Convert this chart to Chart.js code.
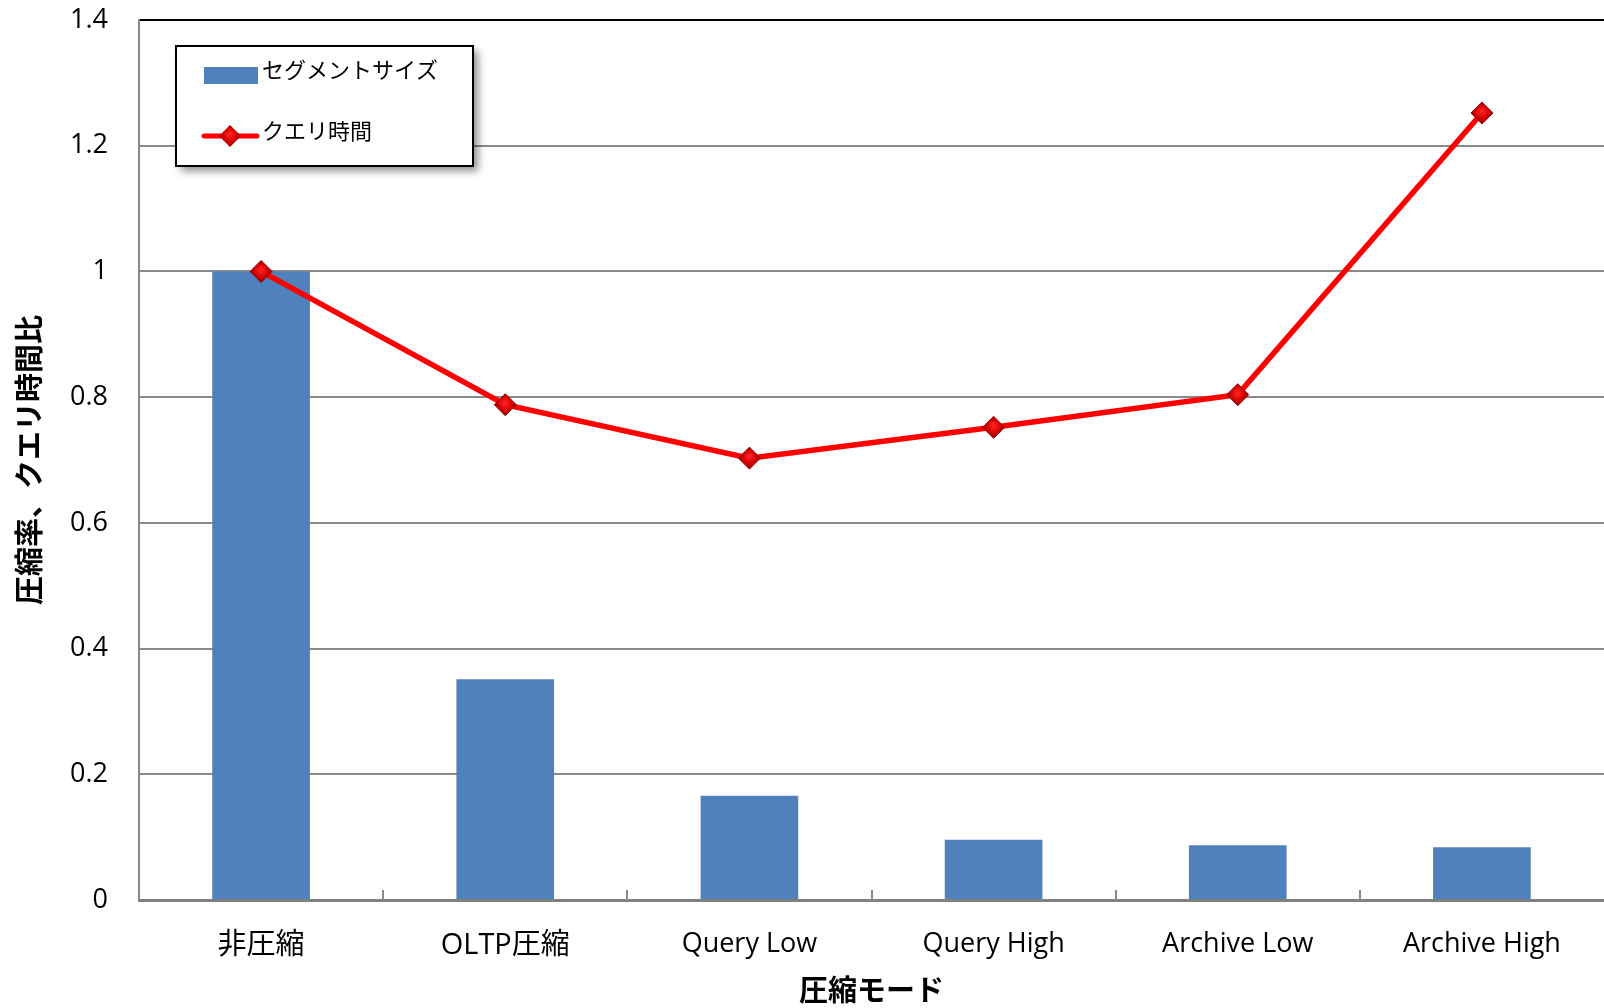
<!DOCTYPE html>
<html>
<head>
<meta charset="utf-8">
<script src="https://cdn.jsdelivr.net/npm/chart.js@4/dist/chart.umd.min.js"></script>
<style>
  html, body { margin: 0; padding: 0; background: #fff; overflow: hidden; }
  #wrap { width: 1604px; height: 1008px; position: relative; }
  canvas { display: block; }
</style>
</head>
<body>
<div id="wrap"><canvas id="c" width="1604" height="1008"></canvas></div>
<script>
const categories = ['非圧縮', 'OLTP圧縮', 'Query Low', 'Query High', 'Archive Low', 'Archive High'];
const segmentSize = [1.0, 0.351, 0.166, 0.096, 0.087, 0.084];
const queryTime = [1.0, 0.788, 0.703, 0.752, 0.804, 1.252];
const yTickLabels = ['0', '0.2', '0.4', '0.6', '0.8', '1', '1.2', '1.4'];
const seriesNames = ['セグメントサイズ', 'クエリ時間'];
const xTitle = '圧縮モード';
const yTitle = '圧縮率、クエリ時間比';

const BAR = '#4F81BD';
const RED = '#FF0000';
const GRID = '#8A8A8A';
const FONT = "'Open Sans', 'Noto Sans CJK JP', sans-serif";
const CJK = "'Noto Sans CJK JP', sans-serif";

Chart.defaults.font.family = FONT;
Chart.defaults.color = '#000';

function diamondGradient(ctx, x, y) {
  const g = ctx.createRadialGradient(x, y - 2, 1, x, y, 11);
  g.addColorStop(0, '#FF2020');
  g.addColorStop(0.6, '#D00000');
  g.addColorStop(1, '#8B0000');
  return g;
}

function diamondFill(c) {
  const el = c.element;
  if (!el || el.x === undefined || isNaN(el.x)) return '#D00000';
  return diamondGradient(c.chart.ctx, el.x, el.y);
}

const xTicksPlugin = {
  id: 'xTicks',
  afterDatasetsDraw(chart) {
    const x = chart.scales.x, y = chart.scales.y;
    const ctx = chart.ctx;
    const base = y.getPixelForValue(0);
    ctx.save();
    ctx.strokeStyle = GRID;
    ctx.lineWidth = 2;
    for (let i = 1; i < categories.length; i++) {
      const px = Math.round((x.getPixelForValue(i - 1) + x.getPixelForValue(i)) / 2);
      ctx.beginPath();
      ctx.moveTo(px, base);
      ctx.lineTo(px, base - 10);
      ctx.stroke();
    }
    ctx.restore();
  }
};

const legendPlugin = {
  id: 'boxLegend',
  afterDraw(chart) {
    const ctx = chart.ctx;
    const ds = chart.data.datasets;
    const bx = 176, by = 46, bw = 297, bh = 120;
    ctx.save();
    ctx.shadowColor = 'rgba(0,0,0,0.45)';
    ctx.shadowBlur = 8;
    ctx.shadowOffsetX = 5;
    ctx.shadowOffsetY = 5;
    ctx.fillStyle = '#fff';
    ctx.fillRect(bx, by, bw, bh);
    ctx.restore();
    ctx.save();
    ctx.strokeStyle = '#000';
    ctx.lineWidth = 2;
    ctx.strokeRect(bx, by, bw, bh);
    ctx.fillStyle = ds[0].backgroundColor;
    ctx.fillRect(204, 67, 54, 17);
    ctx.fillStyle = '#000';
    ctx.font = "22px " + CJK;
    ctx.textBaseline = 'middle';
    ctx.textAlign = 'left';
    ctx.fillText(ds[0].label, 262, 70);
    ctx.strokeStyle = ds[1].borderColor;
    ctx.lineWidth = 5;
    ctx.lineCap = 'round';
    ctx.beginPath();
    ctx.moveTo(204, 136);
    ctx.lineTo(257, 136);
    ctx.stroke();
    ctx.fillStyle = diamondGradient(ctx, 230, 136);
    ctx.beginPath();
    ctx.moveTo(230, 125); ctx.lineTo(241, 136); ctx.lineTo(230, 147); ctx.lineTo(219, 136);
    ctx.closePath();
    ctx.fill();
    ctx.fillStyle = '#000';
    ctx.fillText(ds[1].label, 262, 131);
    ctx.restore();
  }
};

new Chart(document.getElementById('c'), {
  data: {
    labels: categories,
    datasets: [
      {
        type: 'bar',
        label: seriesNames[0],
        data: segmentSize,
        backgroundColor: BAR,
        borderWidth: 0,
        categoryPercentage: 1.0,
        barPercentage: 0.4,
        order: 2
      },
      {
        type: 'line',
        label: seriesNames[1],
        data: queryTime,
        borderColor: RED,
        borderWidth: 5.5,
        pointStyle: 'rectRot',
        pointRadius: 11,
        pointHoverRadius: 11,
        pointBorderWidth: 1,
        pointBorderColor: '#990000',
        pointBackgroundColor: diamondFill,
        tension: 0,
        order: 1
      }
    ]
  },
  options: {
    responsive: false,
    animation: false,
    layout: { autoPadding: false, padding: { top: 20, right: 0, left: 0, bottom: 0 } },
    plugins: { legend: { display: false }, tooltip: { enabled: false } },
    scales: {
      x: {
        type: 'category',
        offset: true,
        grid: { display: false },
        border: { display: true, color: '#808080', width: 3 },
        ticks: {
          font: (c) => ({ size: (c.tick && /[^\x00-\x7F]/.test(c.tick.label)) ? 29 : 27 }),
          padding: 20,
          maxRotation: 0,
          autoSkip: false
        },
        title: { display: true, text: xTitle, font: { size: 29, weight: 'bold', family: CJK }, padding: { top: 0, bottom: 1 } },
        afterFit(s) { s.height = 108; s.paddingLeft = 0; s.paddingRight = 0; }
      },
      y: {
        min: 0,
        max: 1.4,
        ticks: {
          stepSize: 0.2,
          font: { size: 27 },
          padding: 31,
          callback: (v, i) => yTickLabels[i]
        },
        grid: {
          drawTicks: false,
          color: (c) => (c.index === yTickLabels.length - 1 ? '#000' : GRID),
          lineWidth: 2
        },
        border: { display: true, color: GRID, width: 2 },
        title: { display: true, text: yTitle, font: { size: 29, weight: 'bold', family: CJK }, padding: { top: 12, bottom: 0 } },
        afterFit(s) { s.width = 139; s.paddingTop = 0; s.paddingBottom = 0; }
      }
    }
  },
  plugins: [xTicksPlugin, legendPlugin]
});
</script>
</body>
</html>
